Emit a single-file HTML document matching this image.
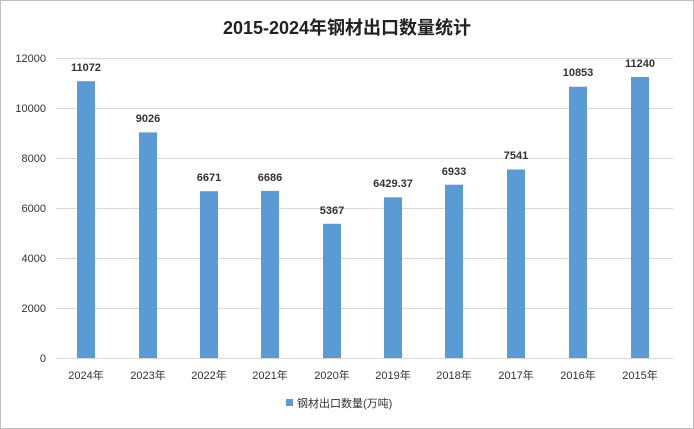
<!DOCTYPE html>
<html><head><meta charset="utf-8"><style>
body{margin:0;background:#fff;}
svg{display:block;font-family:"Liberation Sans","Noto Sans CJK SC",sans-serif;}
</style></head><body>
<svg width="694" height="429" viewBox="0 0 694 429">
<rect x="0.5" y="0.5" width="693" height="428" fill="#fff" stroke="#bfbfbf"/>
<text x="347" y="34" text-anchor="middle" font-size="18" font-weight="bold" fill="#222">2015-2024年钢材出口数量统计</text>
<g stroke="#d9d9d9" stroke-width="1">
<line x1="56" y1="58.5" x2="673" y2="58.5"/>
<line x1="56" y1="108.5" x2="673" y2="108.5"/>
<line x1="56" y1="158.5" x2="673" y2="158.5"/>
<line x1="56" y1="208.5" x2="673" y2="208.5"/>
<line x1="56" y1="258.5" x2="673" y2="258.5"/>
<line x1="56" y1="308.5" x2="673" y2="308.5"/>
<line x1="56" y1="358.5" x2="673" y2="358.5"/>
</g>
<g font-size="11" fill="#333" text-anchor="end">
<text x="46" y="62">12000</text><text x="46" y="112">10000</text><text x="46" y="162">8000</text>
<text x="46" y="212">6000</text><text x="46" y="262">4000</text><text x="46" y="312">2000</text><text x="46" y="362">0</text>
</g>
<g fill="#5b9bd5">
<rect x="77" y="81.2" width="18" height="276.8"/>
<rect x="139" y="132.4" width="18" height="225.6"/>
<rect x="200" y="191.2" width="18" height="166.8"/>
<rect x="261" y="190.9" width="18" height="167.1"/>
<rect x="323" y="223.8" width="18" height="134.2"/>
<rect x="384" y="197.3" width="18" height="160.7"/>
<rect x="445" y="184.7" width="18" height="173.3"/>
<rect x="507" y="169.5" width="18" height="188.5"/>
<rect x="569" y="86.7" width="18" height="271.3"/>
<rect x="631" y="77" width="18" height="281"/>
</g>
<g font-size="11" font-weight="bold" fill="#333" text-anchor="middle">
<text x="86" y="71">11072</text><text x="148" y="122">9026</text><text x="209" y="181">6671</text>
<text x="270" y="181">6686</text><text x="332" y="214">5367</text><text x="393" y="187">6429.37</text>
<text x="454" y="175">6933</text><text x="516" y="159">7541</text><text x="578" y="76">10853</text><text x="640" y="67">11240</text>
</g>
<g font-size="11" fill="#333" text-anchor="middle">
<text x="86" y="379">2024年</text><text x="148" y="379">2023年</text><text x="209" y="379">2022年</text>
<text x="270" y="379">2021年</text><text x="332" y="379">2020年</text><text x="393" y="379">2019年</text>
<text x="454" y="379">2018年</text><text x="516" y="379">2017年</text><text x="578" y="379">2016年</text><text x="640" y="379">2015年</text>
</g>
<rect x="286" y="399" width="7" height="7" fill="#5b9bd5"/>
<text x="297" y="407" font-size="11" fill="#333">钢材出口数量(万吨)</text>
</svg>
</body></html>
